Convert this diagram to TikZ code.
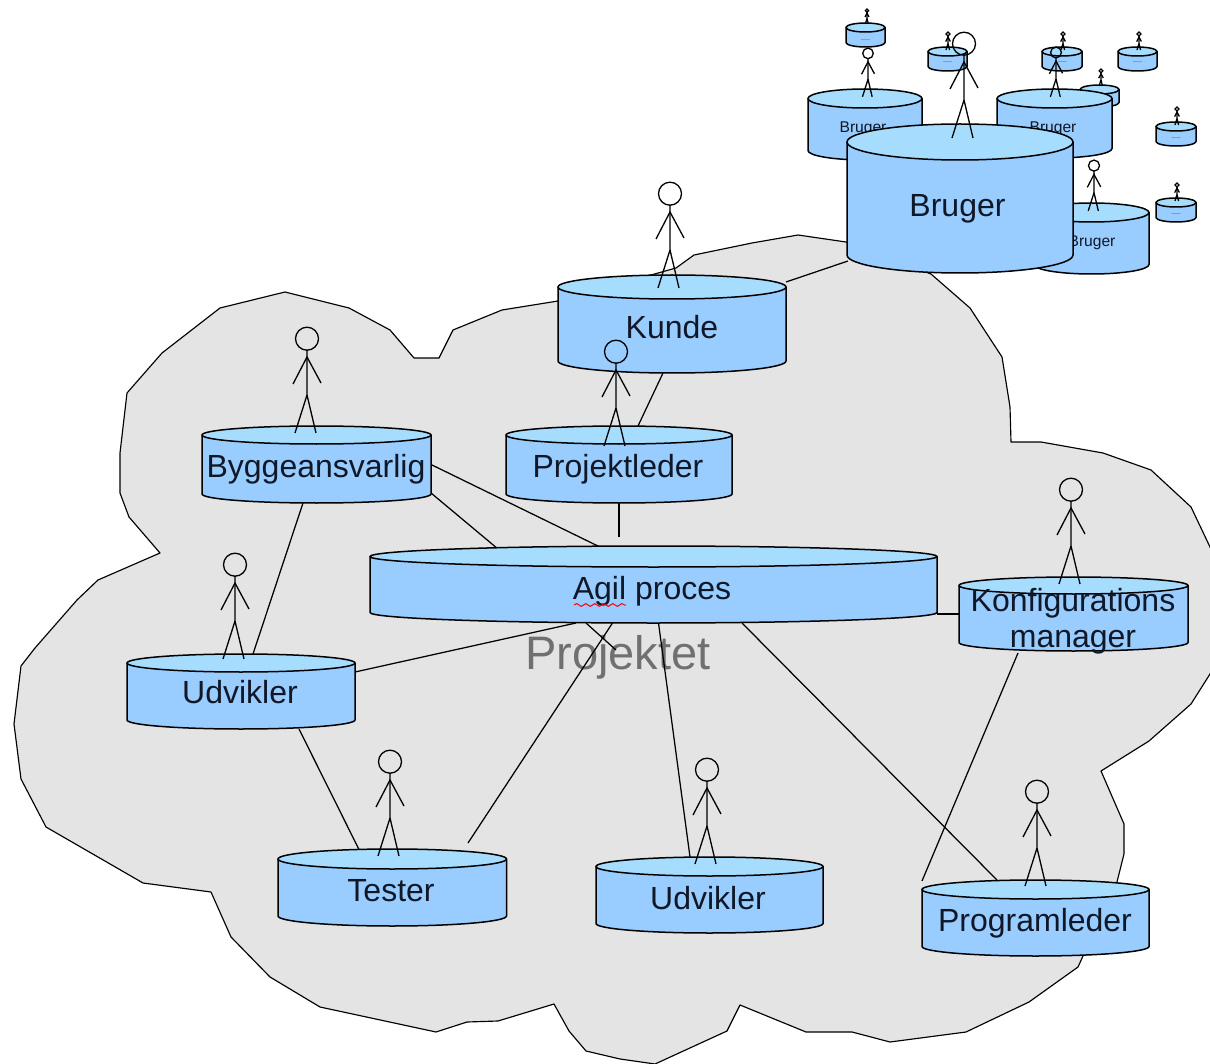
\documentclass[tikz,border=0pt]{standalone}
\usepackage{fontspec}
\setmainfont{Liberation Sans}
\usetikzlibrary{decorations.pathmorphing}
\pgfdeclarelayer{cloudlayer}
\pgfdeclarelayer{linklayer}
\pgfsetlayers{cloudlayer,linklayer,main}
\definecolor{cloudgray}{HTML}{E4E4E4}
\definecolor{cylbody}{HTML}{99CCFF}
\definecolor{cyltop}{HTML}{A6DDFF}
\definecolor{bigtext}{HTML}{707070}
\definecolor{tinytext}{HTML}{6080B0}
\definecolor{labtext}{HTML}{101828}
\tikzset{
  cylline/.style={draw=black,line width=1.5pt,line join=round},
  link/.style={draw=black,line width=1.25pt},
  stickline/.style={draw=black,line width=1.3pt},
  cylbox/.style={inner sep=0pt,outer sep=0pt,draw=none},
  lab/.style={inner sep=0pt,outer sep=0pt,anchor=base,text=labtext,font=\fontsize{32}{36}\selectfont},
  labs/.style={lab,font=\fontsize{15.6}{18}\selectfont},
  labt/.style={lab,text=tinytext,font=\fontsize{9}{10}\selectfont},
}
% name, left, right, top, bottom, ry
\newcommand\mycyl[6]{%
  \pgfmathsetmacro\cylw{#3-#2}%
  \pgfmathsetmacro\cylh{#5-#4}%
  \pgfmathsetmacro\cylrx{(#3-#2)/2}%
  \pgfmathsetmacro\cylcx{(#3+#2)/2}%
  \pgfmathsetmacro\cylcy{(#4+#5)/2}%
  \pgfmathsetmacro\cylup{#4+#6}%
  \pgfmathsetmacro\cyldn{#5-#6}%
  \path[cylline,fill=cylbody] (#2,\cylup) -- (#2,\cyldn)
     arc[start angle=180,end angle=360,x radius=\cylrx pt,y radius=#6pt]
     -- (#3,\cylup) -- cycle;
  \path[cylline,fill=cyltop] (\cylcx,\cylup) ellipse[x radius=\cylrx pt,y radius=#6pt];
  \node[cylbox,minimum width=\cylw pt,minimum height=\cylh pt] (#1) at (\cylcx,\cylcy) {};
}
% centre x, top y, scale
\newcommand\stickman[3]{%
  \begin{scope}[shift={(#1,#2)},scale=#3]
    \draw[stickline] (0,11.7) circle[radius=11.5];
    \draw[stickline] (0,23) -- (0,68) -- (-12,106);
    \draw[stickline] (0,68) -- (9,106);
    \draw[stickline] (-14,57) -- (0,30) -- (14,56);
  \end{scope}%
}
\begin{document}
\begin{tikzpicture}[x=1pt,y=-1pt]
\useasboundingbox (0,0) rectangle (1210,1064);
\clip (0,0) rectangle (1210,1064);
\begin{pgfonlayer}{cloudlayer}
\path[draw=black,line width=1.15pt,fill=cloudgray,line join=round]
 (285,292) -- (349,308) -- (390,330) -- (414,358) -- (439,358) -- (453,330) -- (502,310) -- (558,301)
 -- (676,268) -- (694,255) -- (752,243) -- (798,235) -- (846,242) -- (931,274) -- (970,308) -- (1002,357)
 -- (1010,407) -- (1011,442) -- (1041,442) -- (1103,453) -- (1151,470) -- (1191,507) -- (1210,547)
 -- (1240,610) -- (1210,674) -- (1191,704) -- (1149,741) -- (1101,771) -- (1124,824) -- (1124,854) -- (1117,882)
 -- (1083,956) -- (1078,967) -- (1029,1002) -- (966,1032) -- (890,1042) -- (852,1032) -- (806,1032)
 -- (740,1005) -- (727,1031) -- (655,1064) -- (620,1059) -- (586,1051) -- (569,1031) -- (554,1004)
 -- (498,1021) -- (467,1022) -- (436,1032) -- (320,1007) -- (270,977) -- (231,937) -- (211,892)
 -- (143,883) -- (46,827) -- (21,779) -- (14,724) -- (21,666) -- (35,648) -- (77,600) -- (98,580)
 -- (160,553) -- (129,517) -- (120,493) -- (120,453) -- (127,393) -- (162,353) -- (220,308) -- cycle;
\node[lab,text=bigtext,font=\fontsize{47}{52}\selectfont] (projektet) at (618,669) {Projektet};
\end{pgfonlayer}

% tiny cylinders
\mycyl{ta}{846}{885}{23}{47}{4.5}\stickman{867}{9}{0.14}
\mycyl{tb}{928}{967}{47}{71}{4.5}\stickman{948}{32}{0.17}
\mycyl{tc}{1042}{1082}{47}{71}{4.5}\stickman{1063}{32}{0.17}
\mycyl{td}{1118}{1157}{47}{71}{4.5}\stickman{1139}{32}{0.17}
\mycyl{te}{1080}{1119}{85}{107}{4.5}\stickman{1101}{69}{0.16}
\mycyl{tf}{1156}{1196}{122}{146}{4.5}\stickman{1177}{107}{0.17}
\mycyl{tg}{1156}{1196}{198}{222}{4.5}\stickman{1177}{183}{0.17}
\node[labt] (lta) at (865.5,43) {---};
\node[labt] (ltb) at (947.5,65) {---};
\node[labt] (ltc) at (1062,65) {---};
\node[labt] (ltd) at (1137.5,65) {---};
\node[labt] (ltf) at (1176,141) {---};
\node[labt] (ltg) at (1176,217) {---};

% small Bruger cylinders
\mycyl{sa}{808}{922}{89}{160}{9.5}\stickman{868}{48}{0.46}
\mycyl{sb}{997}{1112}{89}{158}{9.5}
\node[labs] (lsa) at (863,133) {Bruger};
\node[labs] (lsb) at (1053,133) {Bruger};
\stickman{1056}{47}{0.47}
\mycyl{sc}{1034}{1149}{203}{274}{9.5}
\node[labs] (lsc) at (1092,247) {Bruger};
\stickman{1094}{160}{0.48}

% main cylinders
\mycyl{bruger}{847}{1073}{124}{273}{18}
\node[lab] (lbruger) at (957.5,217) {Bruger};
\stickman{964}{32}{1}

\mycyl{kunde}{558}{786}{275}{373}{12}
\node[lab] (lkunde) at (672,339) {Kunde};
\stickman{670}{182}{1}

\mycyl{bygge}{202}{431}{426}{503}{9}
\node[lab] (lbygge) at (316,477) {Byggeansvarlig};
\stickman{307}{327}{1}

\mycyl{pl}{506}{732}{426}{503}{9}
\node[lab] (lpl) at (618,477) {Projektleder};
\stickman{616}{340}{1}

\mycyl{agil}{370}{937}{546}{623}{10.5}
\node[lab] (lagil) at (652,599) {Agil proces};
\coordinate (wavea) at (574,605);
\coordinate (waveb) at (626,605);
\draw[red,line width=1pt,decorate,decoration={snake,amplitude=1.4pt,segment length=9pt}] (wavea) -- (waveb);

\mycyl{konf}{959}{1188}{577}{651}{8.5}
\node[lab,anchor=center,align=center] (lkonf) at (1073,621) {Konfigurations\\manager};
\stickman{1071}{478}{1}

\mycyl{udl}{127}{355}{654}{729}{9}
\node[lab] (ludl) at (240,703) {Udvikler};
\stickman{235}{553}{1}

\mycyl{tester}{278}{506.5}{849}{926}{10}
\node[lab] (ltester) at (391,901) {Tester};
\stickman{390}{750}{1}

\mycyl{udb}{596}{823}{857}{933}{9.5}
\node[lab] (ludb) at (708,909) {Udvikler};
\stickman{707}{758}{1}

\mycyl{prog}{922}{1149}{880}{956}{9.5}
\node[lab] (lprog) at (1035,931) {Programleder};
\stickman{1037}{780}{1}

% free ends of connectors
\coordinate (stub) at (619,537);
\coordinate (testerfree) at (468,843);
\coordinate (agilfree) at (616,650);
\coordinate (progfree) at (922,881);

\begin{pgfonlayer}{linklayer}
\draw[link] ([xshift=1pt,yshift=12pt]bruger.south west) -- ([yshift=-7pt]kunde.north east);
\draw[link] ([xshift=-9pt]kunde.south) -- ([xshift=19pt]pl.north);
\draw[link] (pl.south) -- (stub);
\draw[link] (bygge.east) -- ([xshift=-51.5pt,yshift=-2pt]agil.north);
\draw[link] ([yshift=10pt]bygge.south east) -- ([xshift=128pt,yshift=-3pt]agil.north west);
\draw[link] ([xshift=-13.5pt]bygge.south) -- ([xshift=12pt]udl.north);
\draw[link] ([yshift=-18pt]udl.north east) -- ([xshift=-77.5pt]agil.south);
\draw[link] ([xshift=58pt]udl.south) -- ([xshift=-33pt,yshift=-1pt]tester.north);
\draw[link] (testerfree) -- ([xshift=-41pt]agil.south);
\draw[link] ([xshift=-67.5pt]agil.south) -- (agilfree);
\draw[link] ([xshift=5pt]agil.south) -- ([xshift=-19.5pt]udb.north);
\draw[link] ([xshift=88.5pt]agil.south) -- ([xshift=-38.5pt]prog.north);
\draw[link] ([yshift=9pt]agil.south east) -- ([yshift=37pt]konf.south west);
\draw[link] ([xshift=-55.5pt,yshift=-2pt]konf.south) -- (progfree);
\end{pgfonlayer}
\end{tikzpicture}
\end{document}
